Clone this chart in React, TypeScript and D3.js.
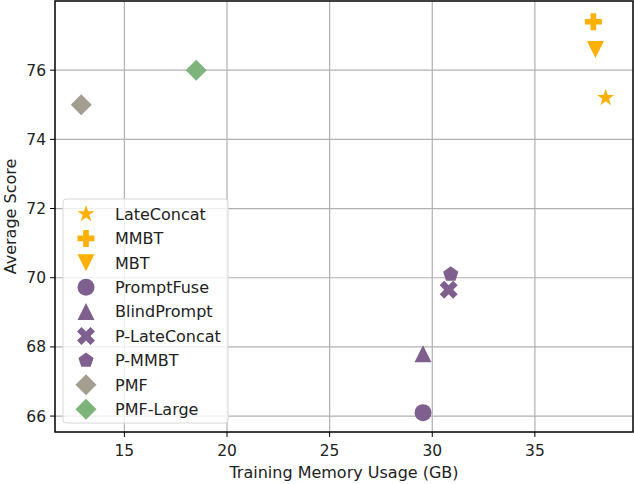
import React from "react"
import * as d3 from "d3"

const WIDTH = 634
const HEIGHT = 484
const MARGIN = { top: 1, right: 1, bottom: 52, left: 55 }

const methods = [
    "LateConcat",
    "MMBT",
    "MBT",
    "PromptFuse",
    "BlindPrompt",
    "P-LateConcat",
    "P-MMBT",
    "PMF",
    "PMF-Large",
]
const memoryGB = [38.45, 37.85, 37.95, 29.55, 29.55, 30.8, 30.9, 12.9, 18.5]
const avgScore = [75.2, 77.4, 76.6, 66.1, 67.8, 69.65, 70.1, 75.0, 76.0]
const markers = ["star", "plus", "tridown", "circle", "triup", "x", "pentagon", "diamond", "diamond"]
const colors = [
    "#FFB000",
    "#FFB000",
    "#FFB000",
    "#7E5F8E",
    "#7E5F8E",
    "#7E5F8E",
    "#7E5F8E",
    "#A39E8F",
    "#7DB47B",
]
const xTicks = [15, 20, 25, 30, 35]
const yTicks = [66, 68, 70, 72, 74, 76]

const FONT = "DejaVu Sans, sans-serif"

// marker outlines, s = full size in px
const markerPath = (kind: string, s: number) => {
    const h = s / 2
    const poly = (pts: [number, number][]) =>
        "M" + pts.map((p) => p[0].toFixed(2) + "," + p[1].toFixed(2)).join("L") + "Z"
    switch (kind) {
        case "circle":
            return `M${h},0A${h},${h} 0 1,1 ${-h},0A${h},${h} 0 1,1 ${h},0Z`
        case "triup":
            return poly([[0, -h], [h, h], [-h, h]])
        case "tridown":
            return poly([[0, h], [h, -h], [-h, -h]])
        case "diamond":
            return poly([[0, -h], [h, 0], [0, h], [-h, 0]])
        case "star": {
            const pts: [number, number][] = []
            for (let i = 0; i < 10; i++) {
                const r = i % 2 === 0 ? h : h * 0.381966
                const a = (Math.PI / 5) * i
                pts.push([r * Math.sin(a), -r * Math.cos(a)])
            }
            return poly(pts)
        }
        case "pentagon": {
            const pts: [number, number][] = []
            for (let i = 0; i < 5; i++) {
                const a = ((2 * Math.PI) / 5) * i
                pts.push([h * Math.sin(a), -h * Math.cos(a)])
            }
            return poly(pts)
        }
        case "plus": {
            const u = s / 6
            return poly([
                [-u, -h], [u, -h], [u, -u], [h, -u], [h, u], [u, u],
                [u, h], [-u, h], [-u, u], [-h, u], [-h, -u], [-u, -u],
            ])
        }
        case "x": {
            const q = s / 4
            return poly([
                [-q, -2 * q], [0, -q], [q, -2 * q], [2 * q, -q], [q, 0], [2 * q, q],
                [q, 2 * q], [0, q], [-q, 2 * q], [-2 * q, q], [-q, 0], [-2 * q, -q],
            ])
        }
    }
    return ""
}

const markerSize: Record<string, number> = {
    circle: 17,
    triup: 17,
    tridown: 17,
    diamond: 21,
    star: 18,
    pentagon: 16,
    plus: 17,
    x: 18,
}

export default function App() {
    const x = d3
        .scaleLinear()
        .domain([11.62, 39.78])
        .range([MARGIN.left, WIDTH - MARGIN.right])
    const y = d3
        .scaleLinear()
        .domain([65.54, 78.0])
        .range([HEIGHT - MARGIN.bottom, MARGIN.top])

    const [x0, x1] = x.range()
    const [y0, y1] = y.range()

    const legend = { x: 63, y: 199, w: 165, h: 224, row: 24.4 }

    return (
        <svg
            width={WIDTH}
            height={HEIGHT}
            style={{ position: "absolute", left: 0, top: 0, background: "#fff" }}
            fontFamily={FONT}
        >
            <rect x={0} y={0} width={WIDTH} height={HEIGHT} fill="#fff" />
            {/* grid */}
            {xTicks.map((t) => (
                <line key={"gx" + t} x1={x(t)} x2={x(t)} y1={y1} y2={y0} stroke="#b0b0b0" strokeWidth={1.2} />
            ))}
            {yTicks.map((t) => (
                <line key={"gy" + t} x1={x0} x2={x1} y1={y(t)} y2={y(t)} stroke="#b0b0b0" strokeWidth={1.2} />
            ))}

            {/* points */}
            {methods.map((m, i) => (
                <path
                    key={m}
                    d={markerPath(markers[i], markerSize[markers[i]])}
                    transform={`translate(${x(memoryGB[i])},${y(avgScore[i])})`}
                    fill={colors[i]}
                />
            ))}

            {/* spines */}
            <rect x={x0} y={y1} width={x1 - x0} height={y0 - y1} fill="none" stroke="#000" strokeWidth={1.5} />

            {/* x ticks */}
            {xTicks.map((t) => (
                <g key={"tx" + t}>
                    <line x1={x(t)} x2={x(t)} y1={y0} y2={y0 + 5} stroke="#000" strokeWidth={1} />
                    <text x={x(t)} y={y0 + 23.5} textAnchor="middle" fontSize={15.5} fill="#222">
                        {t}
                    </text>
                </g>
            ))}
            {/* y ticks */}
            {yTicks.map((t) => (
                <g key={"ty" + t}>
                    <line x1={x0 - 5} x2={x0} y1={y(t)} y2={y(t)} stroke="#000" strokeWidth={1} />
                    <text x={x0 - 9} y={y(t)} dy="0.36em" textAnchor="end" fontSize={15.5} fill="#222">
                        {t}
                    </text>
                </g>
            ))}

            <text x={(x0 + x1) / 2} y={478} textAnchor="middle" fontSize={16} fill="#222">
                Training Memory Usage (GB)
            </text>
            <text
                transform={`translate(16,${(y0 + y1) / 2}) rotate(-90)`}
                textAnchor="middle"
                fontSize={16}
                fill="#222"
            >
                Average Score
            </text>

            {/* legend */}
            <rect
                x={legend.x}
                y={legend.y}
                width={legend.w}
                height={legend.h}
                rx={3}
                fill="#fff"
                fillOpacity={0.8}
                stroke="#d8d8d8"
                strokeWidth={1}
            />
            {methods.map((m, i) => {
                const cy = legend.y + 15 + i * legend.row
                return (
                    <g key={"lg" + m}>
                        <path
                            d={markerPath(markers[i], markerSize[markers[i]])}
                            transform={`translate(${legend.x + 23},${cy})`}
                            fill={colors[i]}
                        />
                        <text x={legend.x + 52} y={cy} dy="0.36em" fontSize={16} fill="#222">
                            {m}
                        </text>
                    </g>
                )
            })}
        </svg>
    )
}
